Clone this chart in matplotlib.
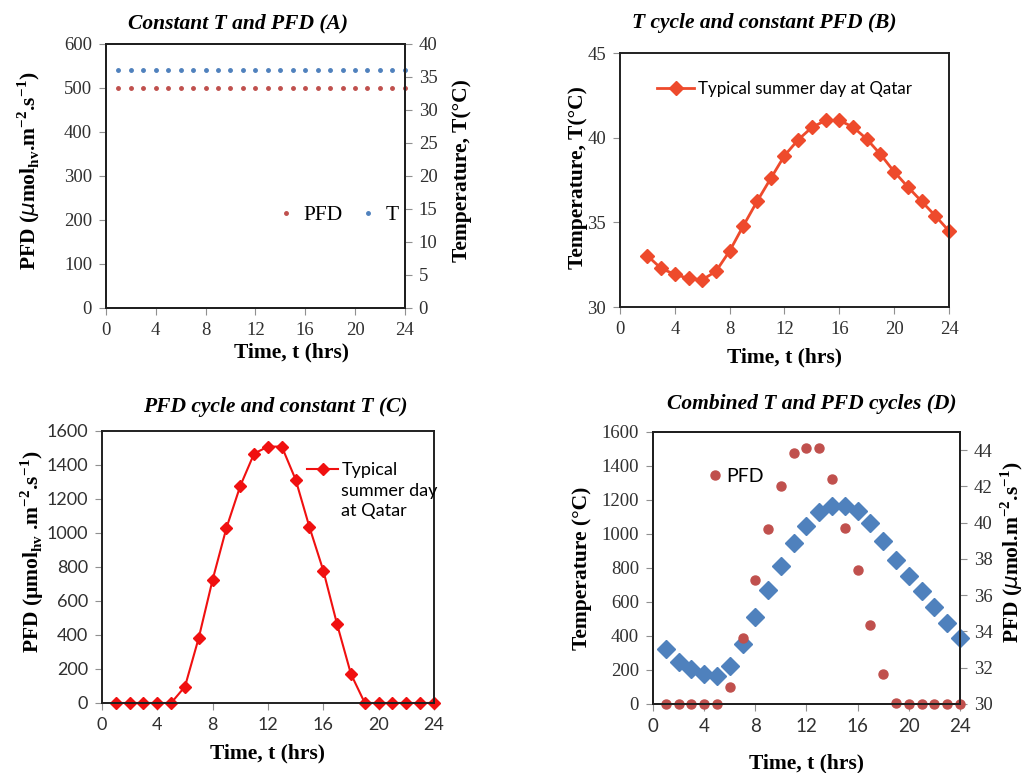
import numpy as np
import matplotlib
matplotlib.use("Agg")
import matplotlib.pyplot as plt
from matplotlib.lines import Line2D

# ---- data ----
hours = list(range(1, 25))

# (A) constant T and PFD
pfd_const = [500] * 24
temp_const = [36] * 24

# (B) T cycle, constant PFD (starts at hour 2)
hours_b = list(range(2, 25))
temp_b = [33.03, 32.28, 31.93, 31.69, 31.61, 32.11, 33.31, 34.80, 36.24, 37.60,
          38.94, 39.88, 40.61, 41.02, 41.02, 40.63, 39.92, 39.02, 37.99, 37.09,
          36.24, 35.39, 34.49]

# (C) PFD cycle, constant T
pfd_c = [0, 0, 0, 0, 0, 96, 384, 725, 1030, 1277, 1467, 1508, 1508, 1314,
         1034, 779, 462, 170, 0, 0, 0, 0, 0, 0]

# (D) combined cycles
pfd_d = [0, 0, 0, 0, 0, 102, 387, 728, 1031, 1282, 1477, 1507, 1507, 1321,
         1037, 787, 464, 174, 6, 0, 0, 0, 0, 0]
temp_d = [33.02, 32.29, 31.92, 31.67, 31.56, 32.10, 33.31, 34.78, 36.28, 37.63,
          38.88, 39.83, 40.56, 40.93, 40.93, 40.63, 39.97, 38.99, 37.96, 37.08,
          36.24, 35.36, 34.45, 33.64]

SERIF = "Liberation Serif"
SANS = "Lato"
RED_XL = "#C0504D"
BLUE_XL = "#4F81BD"
TICK_C = "#303030"

fig = plt.figure(figsize=(10.34, 7.73), dpi=100)


def style_axes(ax, tick_family_x, tick_family_y, tick_size_x, tick_size_y):
    for s in ax.spines.values():
        s.set_color("#202020")
        s.set_linewidth(1.4)
    ax.tick_params(direction="out", length=5, pad=5, color="#909090", labelcolor=TICK_C)
    for lab in ax.get_xticklabels():
        lab.set_fontfamily(tick_family_x)
        lab.set_fontsize(tick_size_x)
    for lab in ax.get_yticklabels():
        lab.set_fontfamily(tick_family_y)
        lab.set_fontsize(tick_size_y)


def title(x, y, text):
    fig.text(x / 1034, 1 - y / 773, text, ha="center", va="center",
             family=SERIF, weight="bold", style="italic", fontsize=15.5)


def place_label(axis, x, y):
    # put the centre of the axis label at (x, y) in axes coordinates
    axis.label.set_va("center")
    axis.label.set_ha("center")
    axis.set_label_coords(x, y)


lab_kw = dict(family=SERIF, weight="bold", fontsize=15.5)

# ---------------- (A) ----------------
axA = fig.add_axes([0.1025, 0.6016, 0.289, 0.3415])
axA.plot(hours, pfd_const, "o", ms=2.5, color=RED_XL, label="PFD", clip_on=False)
axA.set_xlim(0, 24)
axA.set_ylim(0, 600)
axA.set_xticks(range(0, 25, 4))
axA.set_yticks(range(0, 601, 100))
axA2 = axA.twinx()
axA2.plot(hours, temp_const, "o", ms=2.5, color=BLUE_XL, label="T", clip_on=False)
axA2.set_ylim(0, 40)
axA2.set_yticks(range(0, 41, 5))
style_axes(axA, SERIF, SERIF, 13.5, 13.5)
style_axes(axA2, SERIF, SERIF, 13.5, 13.5)
axA.set_xlabel("Time, t (hrs)", **lab_kw)
place_label(axA.xaxis, 0.62, -0.167)
axA.set_ylabel(r"PFD ($\mu$mol$_{\mathregular{hv}}$.m$^{\mathregular{-2}}$.s$^{\mathregular{-1}}$)", **lab_kw)
place_label(axA.yaxis, -0.26, 0.52)
axA2.set_ylabel("Temperature, T(°C)", **lab_kw)
place_label(axA2.yaxis, 1.19, 0.52)
hA = [Line2D([], [], ls="", marker="o", ms=2.5, color=RED_XL),
      Line2D([], [], ls="", marker="o", ms=2.5, color=BLUE_XL)]
axA.legend(hA, ["PFD", "T"], ncol=2, frameon=False, loc="center",
           bbox_to_anchor=(0.78, 0.352), prop={"family": SERIF, "size": 15.5},
           handlelength=0.6, handletextpad=0.5, columnspacing=0.9)
title(238, 23, "Constant T and PFD (A)")

# ---------------- (B) ----------------
axB = fig.add_axes([0.5996, 0.6028, 0.3182, 0.3286])
axB.plot(hours_b, temp_b, "-D", color="#EE4A2C", lw=2, ms=7.5,
         label="Typical summer day at Qatar", clip_on=False)
axB.set_xlim(0, 24)
axB.set_ylim(30, 45)
axB.set_xticks(range(0, 25, 4))
axB.set_yticks([30, 35, 40, 45])
style_axes(axB, SERIF, SERIF, 13.5, 13.5)
axB.set_xlabel("Time, t (hrs)", **lab_kw)
place_label(axB.xaxis, 0.50, -0.20)
axB.set_ylabel("Temperature, T(°C)", **lab_kw)
place_label(axB.yaxis, -0.128, 0.51)
axB.legend(loc="center", bbox_to_anchor=(0.50, 0.858), frameon=False,
           prop={"family": SANS, "size": 12.2}, handlelength=2.2,
           handletextpad=0.2)
title(764, 23, "T cycle and constant PFD (B)")

# ---------------- (C) ----------------
axC = fig.add_axes([0.0986, 0.0906, 0.3211, 0.3519])
axC.plot(hours, pfd_c, "-D", color="#F01010", lw=1.5, ms=6, label="Typical",
         clip_on=False)
axC.set_xlim(0, 24)
axC.set_ylim(0, 1600)
axC.set_xticks(range(0, 25, 4))
axC.set_yticks(range(0, 1601, 200))
style_axes(axC, SANS, SANS, 13, 13)
axC.set_xlabel("Time, t (hrs)", **lab_kw)
place_label(axC.xaxis, 0.50, -0.184)
axC.set_ylabel("PFD (\u00b5mol$_{\\mathregular{hv}}$ .m$^{\\mathregular{-2}}$.s$^{\\mathregular{-1}}$)", **lab_kw)
place_label(axC.yaxis, -0.21, 0.555)
legC = axC.legend(loc="center left", bbox_to_anchor=(0.57, 0.855), frameon=False,
                  prop={"family": SANS, "size": 13}, handlelength=1.7,
                  handletextpad=0.2)
# legend entry wraps onto two more lines in the reference
axC.text(0.72, 0.81, "summer day\nat Qatar", transform=axC.transAxes,
         ha="left", va="top", family=SANS, fontsize=13, linespacing=1.3)
title(275, 407, "PFD cycle and constant T (C)")

# ---------------- (D) ----------------
axD = fig.add_axes([0.6315, 0.0893, 0.2969, 0.3519])
axD.plot(hours, pfd_d, "o", color=RED_XL, ms=6.5, label="PFD", clip_on=False)
axD.set_xlim(0, 24)
axD.set_ylim(0, 1600)
axD.set_xticks(range(0, 25, 4))
axD.set_yticks(range(0, 1601, 200))
axD2 = axD.twinx()
axD2.plot(hours, temp_d, "D", color=BLUE_XL, ms=9, clip_on=False)
axD2.set_ylim(30, 45)
axD2.set_yticks(range(30, 45, 2))
style_axes(axD, SANS, SERIF, 13.5, 13.5)
style_axes(axD2, SANS, SERIF, 13.5, 13.5)
axD.set_zorder(axD2.get_zorder() + 1)
axD.patch.set_visible(False)
axD.set_xlabel("Time, t (hrs)", **lab_kw)
place_label(axD.xaxis, 0.50, -0.217)
axD.set_ylabel("Temperature (°C)", **lab_kw)
place_label(axD.yaxis, -0.23, 0.50)
axD2.set_ylabel(r"PFD ($\mu$mol.m$^{\mathregular{-2}}$.s$^{\mathregular{-1}}$)", **lab_kw)
place_label(axD2.yaxis, 1.17, 0.56)
axD.legend(loc="center left", bbox_to_anchor=(0.12, 0.838), frameon=False,
           prop={"family": SANS, "size": 14}, handlelength=0.8,
           handletextpad=0.15)
title(812, 404, "Combined T and PFD cycles (D)")

fig.savefig("out.png", dpi=100)
